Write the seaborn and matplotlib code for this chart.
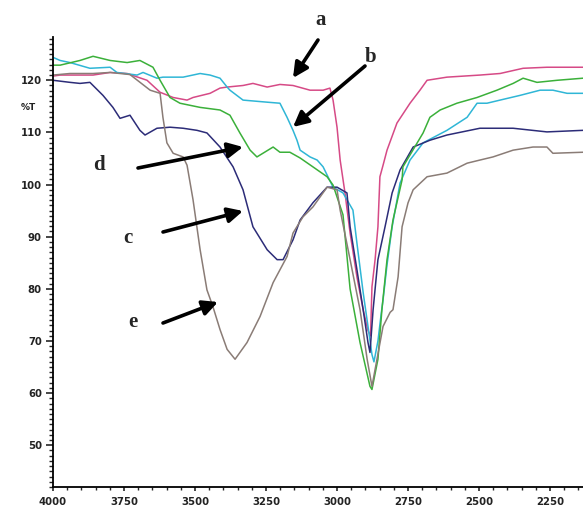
import numpy as np
import pandas as pd
import matplotlib
matplotlib.use("Agg")
import matplotlib.pyplot as plt
import seaborn as sns
from matplotlib.ticker import MultipleLocator

# ---- data (wavenumber cm-1, %T) ----
a_wn = [4000, 3975, 3859, 3799, 3739, 3669, 3623, 3577, 3528, 3507, 3447, 3412, 3387, 3331, 3296,
        3246, 3201, 3155, 3095, 3049, 3025, 3014, 3000, 2989, 2972, 2954, 2930, 2908, 2891, 2882,
        2877, 2866, 2856, 2849, 2838, 2824, 2789, 2743, 2708, 2683, 2613, 2497, 2426, 2345, 2261, 2144, 2134]
a_t = [120.8, 121.0, 121.0, 121.5, 121.3, 120.0, 117.7, 116.7, 116.2, 116.7, 117.5, 118.5, 118.7, 119.0, 119.4,
       118.7, 119.2, 119.0, 118.1, 118.1, 118.5, 116.2, 111.0, 104.7, 98.4, 90.7, 82.3, 76.0, 72.0, 71.0,
       80.4, 85.6, 91.9, 101.5, 103.7, 106.6, 111.8, 115.6, 118.1, 120.0, 120.6, 121.0, 121.3, 122.3, 122.5, 122.5, 122.5]

b_wn = [4000, 3975, 3940, 3870, 3799, 3775, 3704, 3683, 3634, 3613, 3542, 3482, 3447, 3412, 3387, 3377,
        3331, 3246, 3201, 3176, 3155, 3141, 3130, 3095, 3070, 3049, 3014, 2979, 2944, 2930, 2908, 2891,
        2877, 2870, 2856, 2845, 2838, 2824, 2806, 2778, 2743, 2697, 2613, 2542, 2507, 2472, 2426, 2356,
        2285, 2240, 2190, 2134]
b_t = [124.4, 123.8, 123.4, 122.3, 122.5, 121.5, 121.0, 121.5, 120.4, 120.6, 120.6, 121.3, 121.0, 120.4, 118.7, 118.1,
       116.2, 115.8, 115.6, 112.9, 110.4, 108.5, 106.6, 105.3, 104.7, 103.4, 99.5, 98.4, 95.1, 88.8, 79.3, 72.8,
       67.4, 66.0, 70.0, 75.0, 77.9, 84.6, 91.9, 100.3, 104.7, 108.0, 110.4, 112.9, 115.6, 115.6, 116.2, 117.1,
       118.1, 118.1, 117.5, 117.5]

c_wn = [4000, 3940, 3905, 3870, 3824, 3789, 3764, 3729, 3694, 3676, 3634, 3588, 3542, 3493, 3458, 3412,
        3366, 3331, 3296, 3246, 3211, 3190, 3155, 3130, 3085, 3035, 3000, 2965, 2954, 2930, 2908, 2891,
        2884, 2873, 2856, 2831, 2806, 2778, 2732, 2673, 2613, 2497, 2380, 2261, 2134]
c_t = [120.0, 119.6, 119.4, 119.6, 117.1, 114.8, 112.7, 113.3, 110.4, 109.5, 110.8, 111.0, 110.8, 110.4, 109.9, 107.2,
       103.4, 99.0, 91.9, 87.5, 85.6, 85.6, 89.4, 93.2, 96.5, 99.5, 99.5, 98.4, 91.9, 83.7, 76.0, 69.7,
       67.8, 76.0, 85.6, 91.9, 98.4, 102.8, 107.2, 108.5, 109.5, 110.8, 110.8, 110.1, 110.4]

d_wn = [4000, 3975, 3905, 3859, 3799, 3739, 3694, 3648, 3623, 3588, 3553, 3482, 3412, 3377, 3342, 3306,
        3282, 3261, 3225, 3201, 3166, 3130, 3085, 3035, 3014, 2979, 2954, 2919, 2884, 2877, 2856, 2842,
        2824, 2803, 2771, 2768, 2697, 2673, 2637, 2578, 2507, 2437, 2380, 2345, 2296, 2225, 2134]
d_t = [122.9, 122.9, 123.8, 124.6, 123.8, 123.4, 123.8, 122.5, 120.0, 116.7, 115.6, 114.8, 114.3, 113.3, 109.9, 106.6,
       105.3, 106.0, 107.2, 106.2, 106.2, 105.1, 103.4, 101.5, 99.9, 94.2, 80.0, 69.7, 61.3, 60.7, 66.5, 76.0,
       85.6, 93.2, 100.9, 103.4, 109.9, 112.9, 114.3, 115.6, 116.7, 118.1, 119.4, 120.4, 119.6, 120.0, 120.4]

e_wn = [4000, 3940, 3859, 3799, 3729, 3658, 3623, 3613, 3599, 3577, 3542, 3528, 3507, 3482, 3458, 3437,
        3412, 3387, 3359, 3317, 3271, 3225, 3176, 3155, 3120, 3085, 3035, 3000, 2989, 2954, 2919, 2894,
        2877, 2838, 2813, 2803, 2785, 2771, 2750, 2732, 2683, 2613, 2542, 2497, 2451, 2380, 2310, 2261,
        2240, 2134]
e_t = [121.0, 121.3, 121.3, 121.5, 121.1, 118.1, 117.5, 112.9, 108.0, 106.0, 105.3, 103.7, 97.1, 87.5, 79.8, 76.6,
       72.2, 68.4, 66.5, 69.7, 74.7, 81.2, 86.2, 90.7, 93.8, 95.7, 99.5, 99.0, 95.1, 85.6, 76.0, 66.5,
       61.3, 72.8, 75.5, 76.0, 82.3, 91.9, 96.5, 99.0, 101.5, 102.2, 104.1, 104.7, 105.3, 106.6, 107.2, 107.2,
       106.0, 106.2]

y_ticks = [50, 60, 70, 80, 90, 100, 110, 120]
x_ticks = [4000, 3750, 3500, 3250, 3000, 2750, 2500, 2250]

series = {"a": (a_wn, a_t, "#d64a86"),
          "b": (b_wn, b_t, "#2fb6d6"),
          "c": (c_wn, c_t, "#2c2c78"),
          "d": (d_wn, d_t, "#3bb03a"),
          "e": (e_wn, e_t, "#8a7c76")}

frames = []
for k, (w, t, _) in series.items():
    frames.append(pd.DataFrame({"wn": w, "T": t, "s": k}))
df = pd.concat(frames, ignore_index=True)

sns.set_style("ticks")
W, H = 583, 508
fig = plt.figure(figsize=(W / 100, H / 100), dpi=100)
ax = fig.add_axes([53 / W, 1 - 487 / H, (W - 53) / W, (487 - 37) / H])

for k, (w, t, col) in series.items():
    sns.lineplot(data=df[df.s == k], x="wn", y="T", ax=ax, color=col, lw=1.1,
                 sort=False, estimator=None, legend=False)

ax.set_xlim(4000, 2134)
ax.set_ylim(42, 128.3)
ax.set_xlabel("")
ax.set_ylabel("")
ax.set_xticks(x_ticks)
ax.set_xticklabels([str(v) for v in x_ticks])
ax.set_yticks(y_ticks)
ax.set_yticklabels([str(v) for v in y_ticks])
ax.xaxis.set_minor_locator(MultipleLocator(50))
ax.yaxis.set_minor_locator(MultipleLocator(1))
for s in ["top", "right"]:
    ax.spines[s].set_visible(False)
for s in ["left", "bottom"]:
    ax.spines[s].set_linewidth(1.3)
    ax.spines[s].set_color("black")
ax.tick_params(axis="y", which="major", length=5, width=1.2, pad=3, labelsize=7.3, direction="out")
ax.tick_params(axis="y", which="minor", length=3, width=1.0, direction="out")
ax.tick_params(axis="x", which="major", length=3, width=1.2, pad=4, labelsize=7.3, direction="out")
ax.tick_params(axis="x", which="minor", length=2, width=1.0, direction="out")
for lab in ax.get_xticklabels() + ax.get_yticklabels():
    lab.set_fontweight("bold")
    lab.set_color("#222222")

fig.text(28 / W, 1 - 107 / H, "%T", fontsize=6.5, fontweight="bold", ha="center", va="center", color="#222222")

def px(x, y):
    return (x, H - y)

notes = [("a", (321, 20), (318, 40), (293, 78)),
         ("b", (371, 57), (365, 66), (293, 127)),
         ("d", (99, 165), (138, 168), (243, 147)),
         ("c", (128, 238), (163, 232), (243, 211)),
         ("e", (133, 322), (163, 323), (218, 302))]
for lab, tpos, tail, head in notes:
    fig.text(tpos[0] / W, 1 - tpos[1] / H, lab, fontsize=15, fontweight="bold",
             family="Liberation Serif", ha="center", va="center")
    ax.annotate("", xy=px(*head), xycoords="figure pixels",
                xytext=px(*tail), textcoords="figure pixels",
                arrowprops=dict(arrowstyle="-|>,head_length=0.9,head_width=0.45",
                                lw=2.6, color="black", shrinkA=0, shrinkB=0))

fig.savefig("out.png", dpi=100)
